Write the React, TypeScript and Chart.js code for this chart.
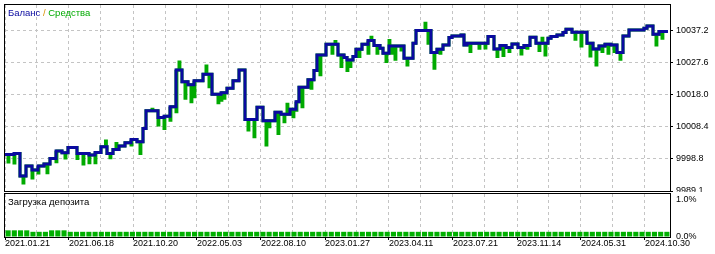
import React, { useEffect, useRef } from 'react';
import { Chart, registerables } from 'chart.js';

Chart.register(...registerables);

// ---- data ----
const dateLabels = ['2021.01.21', '2021.06.18', '2021.10.20', '2022.05.03', '2022.08.10', '2023.01.27', '2023.04.11', '2023.07.21', '2023.11.14', '2024.05.31', '2024.10.30'];
const labelDeals = [0, 21.33, 42.67, 64, 85.33, 106.67, 128, 149.33, 170.67, 192, 213.33];
const yTickValues = [9989.1, 9998.8, 10008.4, 10018.0, 10027.6, 10037.2];
const yTickLabels = ['9989.1', '9998.8', '10008.4', '10018.0', '10027.6', '10037.2'];
const loadTickValues = [0, 1];
const loadTickLabels = ['0.0%', '1.0%'];

const balanceIdx = [0, 3, 5, 7, 9, 11, 13, 15, 17, 19, 21, 24, 28, 30, 32, 34, 36, 38, 40, 42, 44, 46, 47, 51, 53, 55, 57, 59, 61, 63, 66, 69, 72, 74, 76, 78, 80, 84, 86, 90, 92, 95, 97, 98, 101, 103, 104, 107, 111, 113, 114, 116, 117, 119, 121, 123, 125, 126, 128, 133, 136, 137, 142, 144, 146, 148, 149, 152, 153, 154, 161, 163, 165, 167, 169, 171, 173, 175, 177, 181, 182, 184, 186, 187, 189, 194, 196, 198, 200, 202, 204, 206, 208, 213, 214, 216, 218, 221];
const balanceVal = [10000.1, 10000.4, 9993.6, 9996.6, 9995.4, 9996.6, 9997.2, 9998.9, 10001.1, 10000.6, 10002.2, 10000.4, 9999.9, 10000.7, 10002.4, 10000.4, 10001.6, 10002.6, 10003.6, 10004.6, 10003.9, 10007.9, 10013.2, 10011.2, 10011.6, 10014.4, 10025.5, 10021.9, 10021.0, 10022.2, 10024.2, 10018.2, 10018.6, 10020.0, 10022.2, 10025.5, 10010.6, 10014.3, 10010.2, 10012.8, 10012.2, 10013.7, 10015.9, 10020.3, 10022.5, 10025.3, 10030.0, 10033.2, 10030.0, 10029.2, 10028.5, 10029.5, 10031.7, 10033.2, 10034.3, 10032.8, 10032.0, 10030.5, 10032.7, 10029.0, 10033.5, 10037.3, 10030.7, 10031.7, 10033.0, 10035.2, 10035.7, 10036.0, 10033.0, 10033.5, 10035.5, 10031.8, 10032.8, 10032.2, 10033.3, 10032.2, 10032.8, 10035.3, 10033.5, 10035.0, 10035.5, 10036.0, 10036.7, 10037.7, 10036.8, 10033.5, 10031.8, 10032.7, 10033.2, 10033.0, 10030.7, 10035.7, 10037.5, 10038.0, 10038.7, 10036.2, 10037.0, 10037.0];

const dipIdx = [1, 3, 6, 9, 11, 14, 17, 20, 24, 26, 28, 30, 33.5, 35, 37, 42, 45, 49, 51, 53, 55, 57, 58, 60, 62, 63, 67, 68, 71, 72, 73, 81, 83, 87, 88, 91, 93, 94, 96, 97, 99, 102, 105, 109, 110, 112, 114, 115, 118, 121, 122, 124, 127, 128, 129, 130, 132, 134, 140, 141, 143, 145, 155, 158, 160, 164, 166, 168, 172, 174, 178, 179, 180, 190, 192, 195, 197, 199, 201, 203, 205, 217, 219];
const dipVal = [9997.8, 9997.5, 9991.5, 9993.0, 9994.5, 9994.6, 9997.9, 9999.0, 9998.9, 9997.2, 9997.6, 9997.6, 10004.1, 9999.1, 10003.4, 10002.9, 10000.4, 10013.7, 10008.9, 10007.9, 10010.4, 10012.9, 10027.9, 10017.0, 10015.9, 10017.4, 10026.7, 10020.4, 10015.6, 10016.4, 10017.0, 10007.4, 10005.4, 10002.9, 10008.4, 10006.4, 10009.9, 10015.2, 10011.4, 10013.4, 10014.4, 10020.0, 10024.0, 10030.5, 10034.0, 10026.5, 10025.3, 10026.5, 10029.5, 10030.5, 10035.3, 10030.5, 10028.0, 10034.3, 10030.5, 10028.7, 10031.5, 10027.0, 10039.5, 10033.5, 10026.0, 10030.5, 10031.0, 10032.0, 10032.1, 10029.5, 10029.8, 10031.0, 10030.3, 10032.0, 10031.3, 10035.0, 10030.0, 10034.7, 10032.7, 10029.7, 10027.0, 10031.0, 10030.5, 10031.0, 10028.7, 10033.0, 10035.0];

const loadVal = [
  0.18, 0.18, 0.18, 0.18, 0.14, 0.14, 0.14, 0.18, 0.18, 0.18,
  0.14, 0.14, 0.14, 0.14, 0.14, 0.14, 0.14, 0.14, 0.14, 0.14,
  0.14, 0.14, 0.14, 0.14, 0.14, 0.14, 0.14, 0.14, 0.14, 0.14,
  0.14, 0.14, 0.14, 0.14, 0.14, 0.14, 0.14, 0.14, 0.14, 0.14,
  0.14, 0.14, 0.14, 0.14, 0.14, 0.14, 0.14, 0.14, 0.14, 0.14,
  0.14, 0.14, 0.14, 0.14, 0.14, 0.14, 0.14, 0.14, 0.14, 0.14,
  0.14, 0.14, 0.14, 0.14, 0.14, 0.14, 0.14, 0.14, 0.14, 0.14,
  0.14, 0.14, 0.14, 0.14, 0.14, 0.14, 0.14, 0.14, 0.14, 0.14,
  0.14, 0.14, 0.14, 0.14, 0.14, 0.14, 0.14, 0.14, 0.14, 0.14,
  0.14, 0.14, 0.14, 0.14, 0.14, 0.14, 0.14, 0.14, 0.14, 0.14,
  0.14, 0.14, 0.14, 0.14, 0.14, 0.14, 0.14,
];

// ---- config ----
const X_MAX = 221.67;
const Y_MIN = 9989.1;
const Y_MAX = 10045.0;
const LOAD_MAX = 1.16;
const FONT = "'Liberation Sans', Arial, sans-serif";
const BLUE = '#0A0AA0';
const GREEN = '#00AA00';
const GRID = '#C4C4C4';

const gridDeals: number[] = [];
labelDeals.forEach((d, i) => {
  gridDeals.push(d);
  const next = i < labelDeals.length - 1 ? labelDeals[i + 1] : d + (d - labelDeals[i - 1]);
  const mid = (d + next) / 2;
  if (mid <= X_MAX) gridDeals.push(mid);
});

const balanceAt = (d: number) => {
  let v = balanceVal[0];
  for (let i = 0; i < balanceIdx.length; i++) if (balanceIdx[i] <= d) v = balanceVal[i];
  return v;
};

const balancePts = balanceIdx.map((x, i) => ({ x, y: balanceVal[i] }));
const equityPts = (() => {
  const pts = balanceIdx.map((x, i) => ({ x, y: balanceVal[i], o: 0 }));
  dipIdx.forEach((d, i) => {
    pts.push({ x: d, y: dipVal[i], o: 1 });
    pts.push({ x: d + 0.3, y: balanceAt(d), o: 2 });
  });
  pts.sort((a, b) => (a.x - b.x) || (a.o - b.o));
  return pts.map(p => ({ x: p.x, y: p.y }));
})();

const zeroPad = (s: any) => {
  s.paddingTop = 0;
  s.paddingBottom = 0;
  s.paddingLeft = 0;
  s.paddingRight = 0;
};

const framePlugin = (texts: { text: string; color: string }[], ty: number) => ({
  id: 'frameText',
  afterDraw(chart: any) {
    const { ctx, chartArea: a } = chart;
    ctx.save();
    ctx.strokeStyle = '#000';
    ctx.lineWidth = 1;
    ctx.setLineDash([]);
    ctx.strokeRect(a.left - 0.5, a.top - 0.5, a.right - a.left + 1, a.bottom - a.top + 1);
    ctx.font = `9.5px ${FONT}`;
    ctx.textBaseline = 'middle';
    ctx.textAlign = 'left';
    let x = 8;
    texts.forEach(t => {
      ctx.fillStyle = t.color;
      ctx.fillText(t.text, x, ty);
      x += ctx.measureText(t.text).width;
    });
    ctx.restore();
  },
});

export default function App() {
  const mainRef = useRef<HTMLCanvasElement>(null);
  const loadRef = useRef<HTMLCanvasElement>(null);

  useEffect(() => {
    const tickFont = { family: FONT, size: 9 };
    const main = new Chart(mainRef.current!, {
      type: 'line',
      data: {
        datasets: [
          {
            data: balancePts as any,
            borderColor: BLUE,
            borderWidth: 3,
            stepped: true,
            pointRadius: 0,
            tension: 0,
            borderJoinStyle: 'miter',
            borderCapStyle: 'butt',
            order: 0,
          },
          {
            data: equityPts as any,
            borderColor: GREEN,
            borderWidth: 3,
            stepped: true,
            pointRadius: 0,
            tension: 0,
            borderJoinStyle: 'miter',
            borderCapStyle: 'butt',
            order: 1,
          },
        ],
      },
      options: {
        animation: false,
        responsive: false,
        events: [],
        layout: { autoPadding: false, padding: { left: 5, top: 5, right: 0, bottom: 1 } },
        plugins: { legend: { display: false }, tooltip: { enabled: false } },
        scales: {
          x: {
            type: 'linear',
            min: 0,
            max: X_MAX,
            offset: false,
            afterBuildTicks: (s: any) => { s.ticks = gridDeals.map(v => ({ value: v })); },
            ticks: { display: false },
            grid: { color: GRID, drawTicks: false, lineWidth: 1, offset: false },
            border: { display: false, dash: [3, 3] },
            afterFit: (s: any) => { s.height = 0; zeroPad(s); },
          },
          y: {
            position: 'right',
            min: Y_MIN,
            max: Y_MAX,
            afterBuildTicks: (s: any) => { s.ticks = yTickValues.map(v => ({ value: v })); },
            ticks: {
              callback: (_v: any, i: number) => yTickLabels[i],
              font: tickFont,
              color: '#000',
              padding: 3,
            },
            grid: { color: GRID, tickColor: '#000', tickLength: 3, tickBorderDash: [], lineWidth: 1 },
            border: { display: false, dash: [3, 3] },
            afterFit: (s: any) => { s.width = 45; zeroPad(s); },
          },
        },
      } as any,
      plugins: [framePlugin([
        { text: 'Баланс', color: BLUE },
        { text: ' / ', color: '#D89000' },
        { text: 'Средства', color: GREEN },
      ], 13)],
    });

    const load = new Chart(loadRef.current!, {
      type: 'bar',
      data: {
        labels: loadVal.map((_, i) => String(i)),
        datasets: [
          {
            data: loadVal,
            xAxisID: 'xb',
            yAxisID: 'y',
            backgroundColor: '#00B000',
            borderWidth: 0,
            barPercentage: 0.82,
            categoryPercentage: 1,
          },
        ],
      },
      options: {
        animation: false,
        responsive: false,
        events: [],
        layout: { autoPadding: false, padding: { left: 5, top: 2, right: 0, bottom: 0 } },
        plugins: { legend: { display: false }, tooltip: { enabled: false } },
        scales: {
          xb: { type: 'category', display: false, offset: true, afterFit: zeroPad },
          x: {
            type: 'linear',
            position: 'bottom',
            min: 0,
            max: X_MAX,
            offset: false,
            afterBuildTicks: (s: any) => { s.ticks = gridDeals.map(v => ({ value: v })); },
            ticks: {
              autoSkip: false,
              maxRotation: 0,
              minRotation: 0,
              align: 'start',
              padding: -2,
              font: tickFont,
              color: '#000',
              callback: (_v: any, i: number) => (i % 2 === 0 ? dateLabels[i / 2] : ''),
            },
            grid: {
              color: GRID,
              offset: false,
              tickLength: 3,
              tickColor: (c: any) => (c.index % 2 === 0 ? '#000' : 'rgba(0,0,0,0)'),
              tickBorderDash: [],
              lineWidth: 1,
            },
            border: { display: false, dash: [3, 3] },
            afterFit: (s: any) => { s.height = 17; zeroPad(s); },
          },
          y: {
            position: 'right',
            min: 0,
            max: LOAD_MAX,
            afterBuildTicks: (s: any) => { s.ticks = loadTickValues.map(v => ({ value: v })); },
            ticks: {
              callback: (_v: any, i: number) => loadTickLabels[i],
              font: tickFont,
              color: '#000',
              padding: 3,
            },
            grid: { drawOnChartArea: false, tickLength: 3, tickColor: 'rgba(0,0,0,0)' },
            border: { display: false },
            afterFit: (s: any) => { s.width = 45; zeroPad(s); },
          },
        },
      } as any,
      plugins: [framePlugin([{ text: 'Загрузка депозита', color: '#000' }], 10)],
    });

    return () => {
      main.destroy();
      load.destroy();
    };
  }, []);

  return (
    <div style={{ position: 'absolute', left: 0, top: 0, width: 715, height: 254, background: '#fff', overflow: 'hidden' }}>
      <canvas ref={mainRef} width={715} height={192} style={{ position: 'absolute', left: 0, top: 0, width: 715, height: 192 }} />
      <canvas ref={loadRef} width={715} height={62} style={{ position: 'absolute', left: 0, top: 192, width: 715, height: 62 }} />
    </div>
  );
}
